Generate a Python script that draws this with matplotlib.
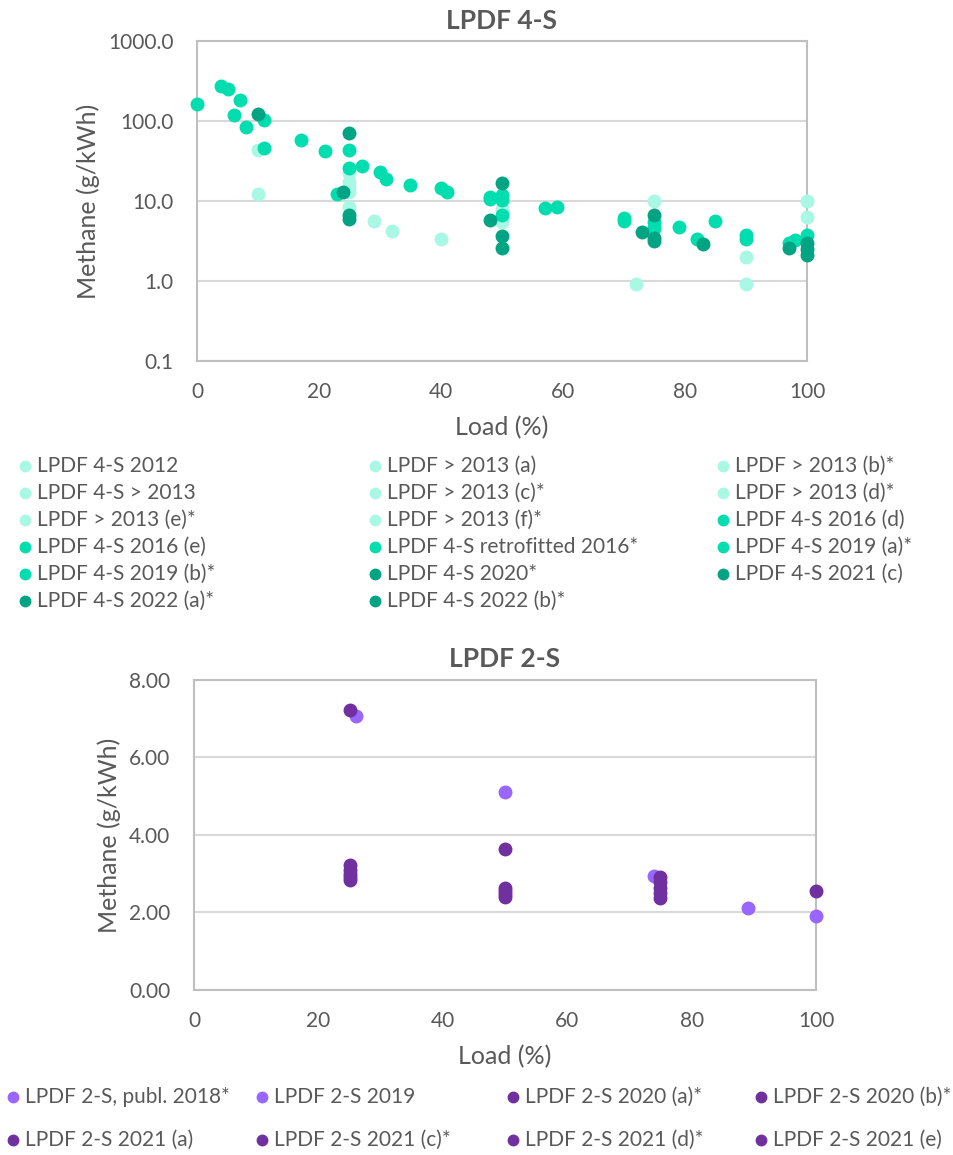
import matplotlib
matplotlib.use('Agg')
import matplotlib.pyplot as plt
from matplotlib.lines import Line2D
from matplotlib.ticker import FixedLocator, FuncFormatter

plt.rcParams['font.family'] = ['Lato', 'DejaVu Sans']

TXT = '#595959'
GRID = '#D9D9D9'
SPINE = '#BFBFBF'

# ----- LPDF 4-S data (load %, methane g/kWh) -----
names_4s = ['LPDF 4-S 2012', 'LPDF > 2013 (a)', 'LPDF > 2013 (b)*',
            'LPDF 4-S > 2013', 'LPDF > 2013 (c)*', 'LPDF > 2013 (d)*',
            'LPDF > 2013 (e)*', 'LPDF > 2013 (f)*', 'LPDF 4-S 2016 (d)',
            'LPDF 4-S 2016 (e)', 'LPDF 4-S retrofitted 2016*', 'LPDF 4-S 2019 (a)*',
            'LPDF 4-S 2019 (b)*', 'LPDF 4-S 2020*', 'LPDF 4-S 2021 (c)',
            'LPDF 4-S 2022 (a)*', 'LPDF 4-S 2022 (b)*']
group_4s = [0, 0, 0, 0, 0, 0, 0, 0, 1, 1, 1, 1, 1, 2, 2, 2, 2]
colors_4s = ['#A8F8E4', '#00DDAE', '#00A482']

load_4s = [
    [10, 25, 50, 75, 100],
    [10, 25, 50, 75, 100],
    [25, 90],
    [25, 72, 90],
    [29],
    [32],
    [40],
    [25],
    [0, 4, 5, 7, 6, 8, 11],
    [11, 17, 21, 25, 25, 27, 30, 31, 35, 40, 41],
    [23, 48, 50, 50, 50],
    [48, 57, 59, 70, 70, 75, 75, 79, 82, 85, 90, 90],
    [97, 98, 100],
    [10, 25, 50],
    [24, 48, 73, 83, 97],
    [25, 50, 75, 75, 100],
    [25, 50, 75, 100, 100],
]
ch4_4s = [
    [44, 22.2, 7.9, 10.1, 10.1],
    [12.1, 8.5, 5.5, 4.3, 6.3],
    [17.3, 2.0],
    [13.1, 0.92, 0.92],
    [5.6],
    [4.2],
    [3.4],
    [15.0],
    [163, 274, 249, 181, 118, 84, 102],
    [45.6, 58, 42, 43, 25.6, 27.4, 23.3, 18.8, 16, 14.7, 13],
    [12.2, 11.3, 11.9, 10.3, 6.6],
    [10.5, 8.2, 8.5, 6.1, 5.7, 5.5, 4.6, 4.8, 3.4, 5.6, 3.8, 3.4],
    [3.0, 3.3, 3.8],
    [124, 71, 16.6],
    [13.1, 5.8, 4.1, 2.9, 2.6],
    [6.6, 3.7, 6.7, 3.5, 2.96],
    [6.0, 2.6, 3.2, 2.5, 2.1],
]

# ----- LPDF 2-S data -----
names_2s = ['LPDF 2-S, publ. 2018*', 'LPDF 2-S 2019', 'LPDF 2-S 2020 (a)*',
            'LPDF 2-S 2020 (b)*', 'LPDF 2-S 2021 (a)', 'LPDF 2-S 2021 (c)*',
            'LPDF 2-S 2021 (d)*', 'LPDF 2-S 2021 (e)']
colors_2s = ['#9966FF', '#9966FF', '#7030A0', '#7030A0',
             '#7030A0', '#7030A0', '#7030A0', '#7030A0']
load_2s = [
    [26, 50, 74, 100],
    [89],
    [25, 50, 75, 100],
    [25, 50, 75],
    [25],
    [25, 50, 75],
    [25, 50, 75],
    [25, 50, 75],
]
ch4_2s = [
    [7.07, 5.12, 2.94, 1.91],
    [2.11],
    [3.22, 3.64, 2.92, 2.55],
    [3.10, 2.62, 2.78],
    [7.23],
    [3.00, 2.55, 2.64],
    [2.92, 2.47, 2.50],
    [2.83, 2.40, 2.38],
]

fig = plt.figure(figsize=(9.54, 11.55), dpi=100)


def style_axes(ax):
    for s in ax.spines.values():
        s.set_color(SPINE)
        s.set_linewidth(1.5)
    ax.tick_params(length=0, colors=TXT, labelsize=15)
    ax.tick_params(axis='y', pad=17)
    ax.tick_params(axis='x', pad=15)
    ax.grid(axis='y', color=GRID, linewidth=1.5)
    ax.set_axisbelow(True)
    ax.set_xlim(0, 100)
    ax.set_xticks([0, 20, 40, 60, 80, 100])
    ax.set_xlabel('Load (%)', fontsize=18, color=TXT, labelpad=10)
    ax.set_ylabel('Methane (g/kWh)', fontsize=18, color=TXT, labelpad=6)


# top chart
ax1 = fig.add_axes([0.2065, 0.6874, 0.6394, 0.2771])
for i in range(len(names_4s)):
    ax1.plot(load_4s[i], ch4_4s[i], 'o', ms=9, color=colors_4s[group_4s[i]],
             clip_on=False, zorder=3 + group_4s[i])
ax1.set_yscale('log')
ax1.set_ylim(0.1, 1000)
ax1.yaxis.set_major_locator(FixedLocator([0.1, 1, 10, 100, 1000]))
ax1.yaxis.set_minor_locator(FixedLocator([]))
ax1.yaxis.set_major_formatter(FuncFormatter(lambda v, p: '{:.1f}'.format(v)))
style_axes(ax1)
ax1.set_title('LPDF 4-S', fontsize=19, fontweight='bold', color=TXT, pad=9)

# bottom chart
ax2 = fig.add_axes([0.2034, 0.1429, 0.6519, 0.2684])
for i in range(len(names_2s)):
    ax2.plot(load_2s[i], ch4_2s[i], 'o', ms=9, color=colors_2s[i],
             clip_on=False, zorder=3)
ax2.set_ylim(0, 8)
ax2.set_yticks([0, 2, 4, 6, 8])
ax2.yaxis.set_major_formatter(FuncFormatter(lambda v, p: '{:.2f}'.format(v)))
style_axes(ax2)
ax2.set_title('LPDF 2-S', fontsize=19, fontweight='bold', color=TXT, pad=9)


def legend_item(x, y, color, label):
    fig.add_artist(Line2D([x / 954], [1 - y / 1155], marker='o', ms=7.5,
                          color=color, linestyle='none',
                          transform=fig.transFigure))
    fig.text((x + 12) / 954, 1 - y / 1155, label, fontsize=15, color=TXT,
             va='center', ha='left')


# top legend, 3 columns filled row by row
for i in range(len(names_4s)):
    r, c = divmod(i, 3)
    legend_item([25, 375, 723][c], 466 + 27 * r, colors_4s[group_4s[i]], names_4s[i])

# bottom legend, 4 columns
for i in range(len(names_2s)):
    r, c = divmod(i, 4)
    legend_item([13, 262, 513, 761][c], 1097 + 43 * r, colors_2s[i], names_2s[i])

fig.savefig('out.png', dpi=100)
